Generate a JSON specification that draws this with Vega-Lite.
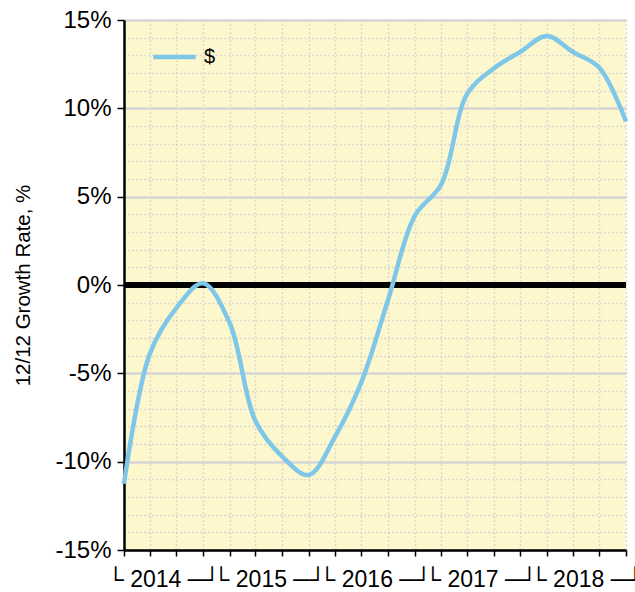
{
  "$schema": "https://vega.github.io/schema/vega-lite/v6.json",
  "width": 502,
  "height": 530,
  "autosize": {"type": "none"},
  "padding": {"left": 124, "top": 20, "right": 9, "bottom": 42},
  "background": "white",
  "config": {"view": {"fill": "#FDF7CD", "stroke": null}, "font": "Liberation Sans"},
  "data": {
    "values": [
      {"date": "2014-02-15", "growth": -11.25},
      {"date": "2014-05-15", "growth": -3.9},
      {"date": "2014-08-15", "growth": -1.3},
      {"date": "2014-11-15", "growth": 0.1},
      {"date": "2015-02-15", "growth": -2.15},
      {"date": "2015-05-15", "growth": -7.7},
      {"date": "2015-08-15", "growth": -9.7},
      {"date": "2015-11-15", "growth": -10.75},
      {"date": "2016-02-15", "growth": -8.55},
      {"date": "2016-05-15", "growth": -5.5},
      {"date": "2016-08-15", "growth": -0.85},
      {"date": "2016-11-15", "growth": 3.9},
      {"date": "2017-02-15", "growth": 5.7},
      {"date": "2017-05-15", "growth": 10.8},
      {"date": "2017-08-15", "growth": 12.26},
      {"date": "2017-11-15", "growth": 13.2},
      {"date": "2018-02-15", "growth": 14.1},
      {"date": "2018-05-15", "growth": 13.2},
      {"date": "2018-08-15", "growth": 12.3},
      {"date": "2018-11-15", "growth": 9.25}
    ]
  },
  "layer": [
    {
      "mark": {"type": "rule", "color": "black", "strokeWidth": 4.5},
      "encoding": {
        "y": {
          "datum": 0,
          "type": "quantitative",
          "scale": {"domain": [-15, 15], "nice": false},
          "axis": {
            "title": "12/12 Growth Rate, %",
            "titleFontSize": 20.5,
            "titleFontWeight": "normal",
            "titleColor": "black",
            "titlePadding": 21,
            "values": [-15, -14, -13, -12, -11, -10, -9, -8, -7, -6, -5, -4, -3, -2, -1, 0, 1, 2, 3, 4, 5, 6, 7, 8, 9, 10, 11, 12, 13, 14, 15],
            "labelExpr": "datum.value % 5 == 0 ? datum.value + '%' : ''",
            "labelFontSize": 24,
            "labelColor": "black",
            "labelPadding": 6,
            "labelOverlap": false,
            "labelFlush": false,
            "labelBound": false,
            "tickSize": 7,
            "tickWidth": 1.5,
            "tickColor": "black",
            "tickOpacity": {"condition": {"test": "datum.value % 5 == 0", "value": 1}, "value": 0},
            "domainColor": "black",
            "domainWidth": 2.5,
            "grid": true,
            "gridColor": {"condition": {"test": "datum.value % 5 == 0", "value": "#D6D6D6"}, "value": "#D0D0D0"},
            "gridDash": {"condition": {"test": "datum.value % 5 == 0", "value": []}, "value": [1.5, 2.5]},
            "gridWidth": {"condition": {"test": "datum.value % 5 == 0", "value": 2.5}, "value": 1.5}
          }
        }
      }
    },
    {
      "mark": {"type": "line", "interpolate": "catmull-rom", "strokeWidth": 4.5},
      "encoding": {
        "x": {
          "field": "date",
          "type": "temporal",
          "scale": {
            "type": "utc",
            "domain": [
              {"year": 2014, "month": 2, "date": 15, "utc": true},
              {"year": 2018, "month": 11, "date": 15, "utc": true}
            ]
          },
          "axis": {
            "title": null,
            "values": [
              {"year": 2014, "month": 2, "date": 15, "utc": true},
              {"year": 2014, "month": 5, "date": 15, "utc": true},
              {"year": 2014, "month": 7, "date": 1, "utc": true},
              {"year": 2014, "month": 8, "date": 15, "utc": true},
              {"year": 2014, "month": 11, "date": 15, "utc": true},
              {"year": 2015, "month": 2, "date": 15, "utc": true},
              {"year": 2015, "month": 5, "date": 15, "utc": true},
              {"year": 2015, "month": 7, "date": 1, "utc": true},
              {"year": 2015, "month": 8, "date": 15, "utc": true},
              {"year": 2015, "month": 11, "date": 15, "utc": true},
              {"year": 2016, "month": 2, "date": 15, "utc": true},
              {"year": 2016, "month": 5, "date": 15, "utc": true},
              {"year": 2016, "month": 7, "date": 1, "utc": true},
              {"year": 2016, "month": 8, "date": 15, "utc": true},
              {"year": 2016, "month": 11, "date": 15, "utc": true},
              {"year": 2017, "month": 2, "date": 15, "utc": true},
              {"year": 2017, "month": 5, "date": 15, "utc": true},
              {"year": 2017, "month": 7, "date": 1, "utc": true},
              {"year": 2017, "month": 8, "date": 15, "utc": true},
              {"year": 2017, "month": 11, "date": 15, "utc": true},
              {"year": 2018, "month": 2, "date": 15, "utc": true},
              {"year": 2018, "month": 5, "date": 15, "utc": true},
              {"year": 2018, "month": 7, "date": 1, "utc": true},
              {"year": 2018, "month": 8, "date": 15, "utc": true},
              {"year": 2018, "month": 11, "date": 15, "utc": true}
            ],
            "labelExpr": "utcmonth(datum.value) == 6 ? '└ ' + utcyear(datum.value) + ' ─┘' : ''",
            "labelOverlap": false,
            "labelFlush": false,
            "labelBound": false,
            "labelFontSize": 23,
            "labelColor": "black",
            "labelPadding": 12,
            "tickSize": 6,
            "tickWidth": 1.5,
            "tickColor": "black",
            "tickOpacity": {"condition": {"test": "utcmonth(datum.value) == 6", "value": 0}, "value": 1},
            "domainColor": "black",
            "domainWidth": 2.5,
            "grid": true,
            "gridColor": "#D0D0D0",
            "gridDash": [1.5, 2.5],
            "gridWidth": 1.5,
            "gridOpacity": {"condition": {"test": "utcmonth(datum.value) == 6", "value": 0}, "value": 1}
          }
        },
        "y": {
          "field": "growth",
          "type": "quantitative",
          "scale": {"domain": [-15, 15], "nice": false},
          "axis": {
            "title": "12/12 Growth Rate, %",
            "titleFontSize": 20.5,
            "titleFontWeight": "normal",
            "titleColor": "black",
            "titlePadding": 21,
            "values": [-15, -14, -13, -12, -11, -10, -9, -8, -7, -6, -5, -4, -3, -2, -1, 0, 1, 2, 3, 4, 5, 6, 7, 8, 9, 10, 11, 12, 13, 14, 15],
            "labelExpr": "datum.value % 5 == 0 ? datum.value + '%' : ''",
            "labelFontSize": 24,
            "labelColor": "black",
            "labelPadding": 6,
            "labelOverlap": false,
            "labelFlush": false,
            "labelBound": false,
            "tickSize": 7,
            "tickWidth": 1.5,
            "tickColor": "black",
            "tickOpacity": {"condition": {"test": "datum.value % 5 == 0", "value": 1}, "value": 0},
            "domainColor": "black",
            "domainWidth": 2.5,
            "grid": true,
            "gridColor": {"condition": {"test": "datum.value % 5 == 0", "value": "#D6D6D6"}, "value": "#D0D0D0"},
            "gridDash": {"condition": {"test": "datum.value % 5 == 0", "value": []}, "value": [1.5, 2.5]},
            "gridWidth": {"condition": {"test": "datum.value % 5 == 0", "value": 2.5}, "value": 1.5}
          }
        },
        "color": {
          "datum": "$",
          "scale": {"range": ["#7FC7E8"]},
          "legend": {
            "orient": "none",
            "legendX": 27,
            "legendY": 13.5,
            "title": null,
            "padding": 0,
            "symbolType": "stroke",
            "symbolSize": 1800,
            "symbolStrokeWidth": 4.5,
            "labelFontSize": 20,
            "labelColor": "black",
            "labelOffset": 6
          }
        }
      }
    }
  ]
}
